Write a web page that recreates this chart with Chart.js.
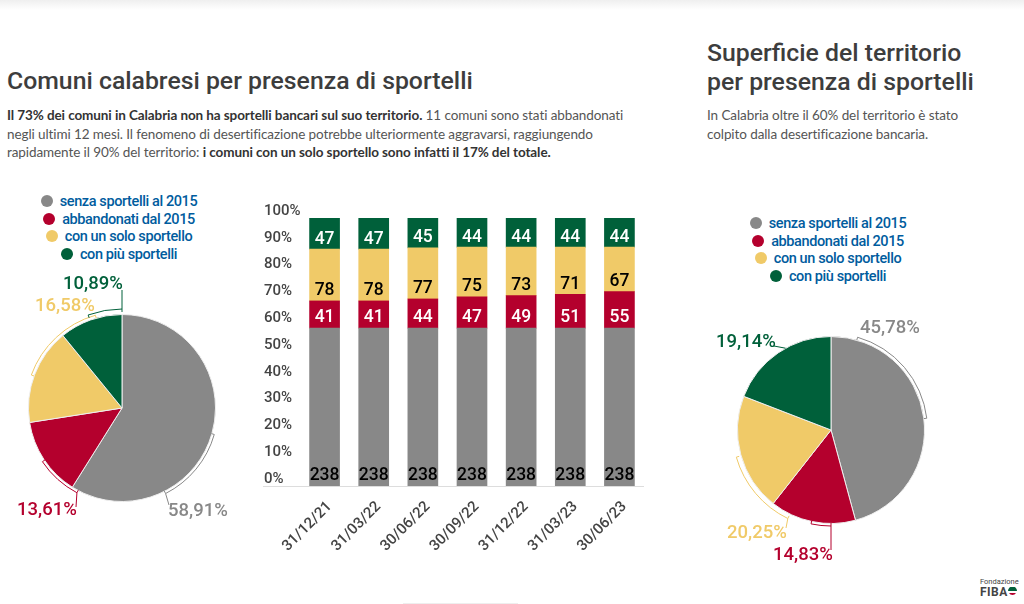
<!DOCTYPE html>
<html lang="it">
<head>
<meta charset="UTF-8">
<title>Comuni calabresi per presenza di sportelli</title>
<script src="https://cdn.jsdelivr.net/npm/chart.js"></script>
<style>
    html, body { margin: 0; padding: 0; background: #fff; }
    body { position: relative; width: 1024px; height: 604px; overflow: hidden; font-family: Roboto, sans-serif; }
    #topband { position: absolute; left: 0; top: 0; width: 1024px; height: 10px; background: linear-gradient(#efefef, #fff); }
    #bottomline { position: absolute; left: 403px; top: 603px; width: 115px; height: 1px; background: #eeeeee; }
    .title { position: absolute; font-size: 24.8px; font-weight: 500; color: #3d3d3d; line-height: 29px; white-space: nowrap; }
    .body { position: absolute; font-family: Lato, sans-serif; font-size: 13.5px; letter-spacing: -0.09px; color: #555; line-height: 18.5px; white-space: nowrap; }
    .body b { color: #333; font-weight: 700; }
    canvas { position: absolute; }
    .legend { position: absolute; width: 240px; text-align: center; color: #005c9e; font-size: 14.5px; font-weight: 500; letter-spacing: -0.4px; line-height: 17.5px; white-space: nowrap; }
    .legend i { display: inline-block; width: 12px; height: 12px; border-radius: 50%; margin-right: 7px; vertical-align: -1px; }
    .pct { position: absolute; font-size: 18.5px; font-weight: 500; line-height: 20px; white-space: nowrap; }
    #logo { position: absolute; left: 980px; top: 577px; color: #444; }
</style>
</head>
<body>
<div id="topband"></div>
<div id="bottomline"></div>
<div class="title" style="left:7px;top:66px">Comuni calabresi per presenza di sportelli</div>
<div class="body" style="left:7px;top:106px">
    <b>Il 73% dei comuni in Calabria non ha sportelli bancari sul suo territorio.</b> 11 comuni sono stati abbandonati<br>
    negli ultimi 12 mesi. Il fenomeno di desertificazione potrebbe ulteriormente aggravarsi, raggiungendo<br>
    rapidamente il 90% del territorio: <b>i comuni con un solo sportello sono infatti il 17% del totale.</b>
</div>
<div class="title" style="left:707px;top:38px">Superficie del territorio<br>per presenza di sportelli</div>
<div class="body" style="left:707px;top:106px">
    In Calabria oltre il 60% del territorio è stato<br>
    colpito dalla desertificazione bancaria.
</div>

<div class="legend" id="legendLeft" style="left:-1px;top:193px"></div>
<div class="legend" id="legendRight" style="left:708px;top:215px"></div>

<canvas id="pieLeft" width="244" height="244" style="left:0;top:286px"></canvas>
<canvas id="bars" width="400" height="360" style="left:255px;top:190px"></canvas>
<canvas id="pieRight" width="244" height="244" style="left:709px;top:308px"></canvas>

<div id="logo">
    <div style="font-size:7.5px;line-height:9px">Fondazione</div>
    <div style="font-size:12px;font-weight:700;line-height:13px;letter-spacing:.5px">FIBA</div>
    <svg width="9" height="9" viewBox="0 0 9 9" style="position:absolute;left:28px;top:10px">
        <path d="M0 4 A4.5 4.5 0 0 1 9 4 Z" fill="#00603a"/>
        <path d="M1 6 L8 6 A4 4 0 0 1 1 6 Z" fill="#b4002d"/>
    </svg>
</div>

<script>
    const categories = ['senza sportelli al 2015', 'abbandonati dal 2015', 'con un solo sportello', 'con più sportelli'];
    const colors = ['#888888', '#b4002d', '#f0ca68', '#00603a'];

    const dates = ['31/12/21', '31/03/22', '30/06/22', '30/09/22', '31/12/22', '31/03/23', '30/06/23'];
    const senzaSportelli = [238, 238, 238, 238, 238, 238, 238];
    const abbandonati = [41, 41, 44, 47, 49, 51, 55];
    const soloSportello = [78, 78, 77, 75, 73, 71, 67];
    const piuSportelli = [47, 47, 45, 44, 44, 44, 44];
    const totaleComuni = 404;
    const percentTicks = [0, 10, 20, 30, 40, 50, 60, 70, 80, 90, 100];

    const comuniShare = [58.91, 13.61, 16.58, 10.89];
    const superficieShare = [45.78, 14.83, 20.25, 19.14];

    // legenda: un punto e un testo per riga, centrati
    function buildLegend(id) {
        document.getElementById(id).innerHTML = categories.map((c, i) =>
            `<div><i style="background:${colors[i]}"></i>${c}</div>`).join('');
    }
    buildLegend('legendLeft');
    buildLegend('legendRight');

    function addPct(value, color, style) {
        const el = document.createElement('div');
        el.className = 'pct';
        el.textContent = value.toFixed(2).replace('.', ',') + '%';
        el.style.color = color;
        el.style.cssText += style;
        document.body.appendChild(el);
    }

    // parentesi attorno alle fette: angoli in gradi da ore 12, in senso orario
    const calloutPlugin = {
        id: 'callouts',
        afterDraw(chart, args, opts) {
            const arc = chart.getDatasetMeta(0).data[0];
            const ctx = chart.ctx;
            const toRad = d => (d - 90) * Math.PI / 180;
            const R = arc.outerRadius;
            opts.items.forEach(it => {
                const r = R + it.gap;
                const a0 = toRad(it.from), a1 = toRad(it.to);
                ctx.save();
                ctx.strokeStyle = it.color;
                ctx.lineWidth = 1;
                ctx.beginPath();
                if (it.from !== it.to) {
                    ctx.moveTo(arc.x + (r - 3) * Math.cos(a0), arc.y + (r - 3) * Math.sin(a0));
                    ctx.arc(arc.x, arc.y, r, a0, a1);
                    ctx.lineTo(arc.x + (r - 3) * Math.cos(a1), arc.y + (r - 3) * Math.sin(a1));
                }
                if (it.leader) {
                    const a = toRad(it.leader.at);
                    const lr = it.from !== it.to ? r : R;
                    ctx.moveTo(arc.x + lr * Math.cos(a), arc.y + lr * Math.sin(a));
                    ctx.lineTo(arc.x + it.leader.dx, arc.y + it.leader.dy);
                }
                ctx.stroke();
                ctx.restore();
            });
        }
    };

    function makePie(id, values, items) {
        new Chart(document.getElementById(id), {
            type: 'pie',
            data: {
                labels: categories,
                datasets: [{ data: values, backgroundColor: colors, borderColor: '#eeeeee', borderWidth: 1, hoverOffset: 0 }]
            },
            options: {
                responsive: false,
                animation: false,
                layout: { padding: 28 },
                plugins: { legend: { display: false }, tooltip: { enabled: false }, callouts: { items } }
            },
            plugins: [calloutPlugin]
        });
    }

    makePie('pieLeft', comuniShare, [
        { from: 106, to: 153, gap: 2.5, color: '#888888', leader: { at: 153, dx: 47, dy: 97 } },
        { from: 208, to: 236, gap: 2.5, color: '#b4002d', leader: { at: 208, dx: -46, dy: 99 } },
        { from: 290, to: 344, gap: 3, color: '#f0ca68' },
        { from: 340, to: 360, gap: 5.5, color: '#00603a', leader: { at: 360, dx: 0, dy: -118 } }
    ]);
    makePie('pieRight', superficieShare, [
        { from: 16, to: 83, gap: 3, color: '#888888' },
        { from: 180, to: 192, gap: 2.5, color: '#b4002d', leader: { at: 180, dx: 0, dy: 120 } },
        { from: 206, to: 254, gap: 5, color: '#f0ca68', leader: { at: 206, dx: -45, dy: 98 } },
        { from: 331, to: 331, gap: 0, color: '#00603a', leader: { at: 331, dx: -57, dy: -84 } }
    ]);

    addPct(comuniShare[3], colors[3], 'left:63px;top:273px');
    addPct(comuniShare[2], colors[2], 'left:35px;top:295px');
    addPct(comuniShare[1], colors[1], 'left:17px;top:499px');
    addPct(comuniShare[0], colors[0], 'left:168px;top:500px');
    addPct(superficieShare[0], colors[0], 'left:860px;top:317px');
    addPct(superficieShare[3], colors[3], 'left:716px;top:331px');
    addPct(superficieShare[2], colors[2], 'left:727px;top:522px');
    addPct(superficieShare[1], colors[1], 'left:773px;top:544px');

    // etichette dentro la base di ogni segmento
    const insideBaseLabels = {
        id: 'insideBaseLabels',
        afterDatasetsDraw(chart) {
            const ctx = chart.ctx;
            ctx.save();
            ctx.font = '500 17.5px Roboto';
            ctx.textAlign = 'center';
            ctx.textBaseline = 'middle';
            chart.data.datasets.forEach((ds, i) => {
                chart.getDatasetMeta(i).data.forEach((bar, j) => {
                    ctx.fillStyle = ds.labelColor;
                    ctx.fillText(ds.data[j], bar.x, bar.base - 10);
                });
            });
            ctx.restore();
        }
    };

    // linea di base che arriva sotto le etichette dell'asse y
    const baseLine = {
        id: 'baseLine',
        beforeDatasetsDraw(chart) {
            const ctx = chart.ctx, y = chart.scales.y.getPixelForValue(0);
            ctx.save();
            ctx.strokeStyle = '#dddddd';
            ctx.beginPath();
            ctx.moveTo(8, y + 0.5);
            ctx.lineTo(chart.chartArea.right, y + 0.5);
            ctx.stroke();
            ctx.restore();
        }
    };

    new Chart(document.getElementById('bars'), {
        type: 'bar',
        data: {
            labels: dates,
            datasets: [
                { label: categories[0], data: senzaSportelli, backgroundColor: colors[0], labelColor: '#000000' },
                { label: categories[1], data: abbandonati, backgroundColor: colors[1], labelColor: '#ffffff' },
                { label: categories[2], data: soloSportello, backgroundColor: colors[2], labelColor: '#000000' },
                { label: categories[3], data: piuSportelli, backgroundColor: colors[3], labelColor: '#ffffff' }
            ]
        },
        options: {
            responsive: false,
            animation: false,
            layout: { padding: { left: 9, right: 11, top: 28, bottom: 0 } },
            datasets: { bar: { barThickness: 30 } },
            plugins: { legend: { display: false }, tooltip: { enabled: false } },
            scales: {
                x: {
                    stacked: true,
                    grid: { display: false },
                    border: { display: false },
                    afterFit(scale) { scale.height = 64; },
                    ticks: {
                        color: '#444444',
                        font: { family: 'Roboto', size: 15, weight: 500 },
                        minRotation: 45,
                        maxRotation: 45,
                        autoSkip: false,
                        labelOffset: 5,
                        padding: 4
                    }
                },
                y: {
                    stacked: true,
                    min: 0,
                    max: totaleComuni,
                    grid: { display: false },
                    border: { display: false },
                    afterFit(scale) { scale.width = 36; },
                    afterBuildTicks(scale) {
                        scale.ticks = percentTicks.map(p => ({ value: p * totaleComuni / 100, label: p + '%' }));
                    },
                    afterTickToLabelConversion(scale) {
                        scale.ticks.forEach((t, i) => { t.label = percentTicks[i] + '%'; });
                    },
                    ticks: {
                        color: '#444444',
                        font: { family: 'Roboto', size: 15, weight: 500 },
                        crossAlign: 'far',
                        labelOffset: -7,
                        padding: 0
                    }
                }
            }
        },
        plugins: [insideBaseLabels, baseLine]
    });
</script>
</body>
</html>
